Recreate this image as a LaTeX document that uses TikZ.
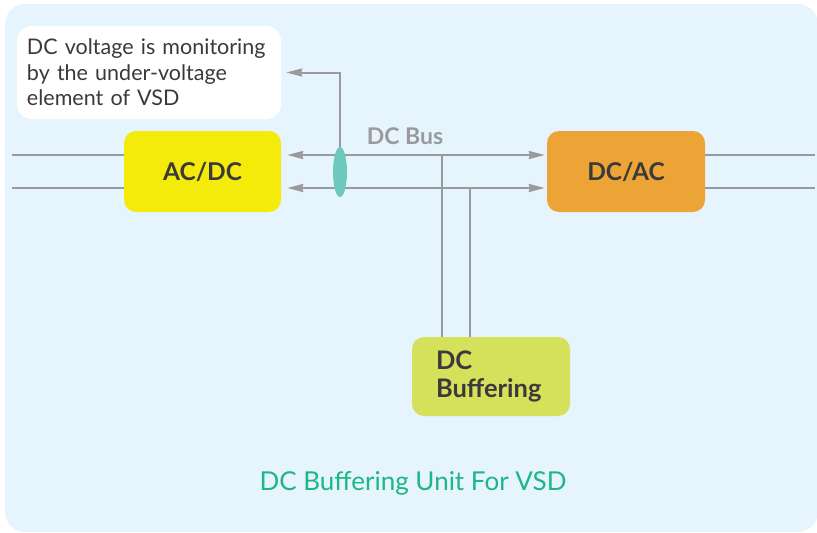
\documentclass[tikz,border=0pt]{standalone}
\usepackage{fontspec}
\setmainfont{Lato}
\usetikzlibrary{shapes.geometric,arrows.meta,positioning}

\definecolor{panelbg}{HTML}{E6F5FD}
\definecolor{wiregray}{HTML}{9A9A9C}
\definecolor{acdcyellow}{HTML}{F5EB0B}
\definecolor{dcacorange}{HTML}{EDA437}
\definecolor{bufgreen}{HTML}{D5E05B}
\definecolor{sensorteal}{HTML}{6DC8BD}
\definecolor{titlegreen}{HTML}{1DB686}
\definecolor{darktext}{HTML}{3A3A3A}

\tikzset{
  block/.style={shape=rectangle, rounded corners=12pt, draw=none, text=darktext,
    font=\fontsize{24.5}{28}\selectfont\bfseries},
  wire/.style={draw=wiregray, line width=2pt},
  bus/.style={wire, {Stealth[length=16pt,width=8pt,inset=1pt]}-{Stealth[length=16pt,width=8pt,inset=1pt]}},
}

\begin{document}
\begin{tikzpicture}[x=1pt,y=-1pt]
	\useasboundingbox (0,0) rectangle (817,533);
	% panel
	\fill[panelbg, rounded corners=20pt] (5,4) rectangle (818,532);

	% create the nodes
	\node (note) [shape=rectangle, rounded corners=15pt, fill=white, minimum width=264pt, minimum height=93pt,
	  text width=244pt, align=left, text=darktext, font=\fontsize{21.5}{25.5}\selectfont] at (149,72.5)
	  {DC voltage is monitoring\\by the under-voltage\\element of VSD};
	\node (acdc) [block, fill=acdcyellow, minimum width=157pt, minimum height=81pt] at (202.5,171.5) {AC/DC};
	\node (dcac) [block, fill=dcacorange, minimum width=158pt, minimum height=81pt] at (626,171.5) {DC/AC};
	\node (buf) [block, fill=bufgreen, minimum width=158pt, minimum height=79pt, text width=110pt, align=left,
	  font=\fontsize{25.5}{28}\selectfont\bfseries] at (491,376.5) {DC\\Buffering};
	\node (buslbl) [text=wiregray, font=\fontsize{23}{26}\selectfont\bfseries] at (405,136) {DC Bus};
	\node (title) [text=titlegreen, font=\fontsize{26}{30}\selectfont] at (413,483) {DC Buffering Unit For VSD};

	\coordinate (pL) at (12,155);
	\coordinate (nL) at (12,188);
	\coordinate (pR) at (815,155);
	\coordinate (nR) at (815,188);
	\coordinate (tapA) at (442,155);
	\coordinate (tapB) at (470,188);

	% connect the nodes
	\draw[wire] (pL) -- (pL -| acdc.west);
	\draw[wire] (nL) -- (nL -| acdc.west);
	\draw[wire] (pR -| dcac.east) -- (pR);
	\draw[wire] (nR -| dcac.east) -- (nR);
	\draw[wire] (tapA) -- (tapA |- buf.north);
	\draw[wire] (tapB) -- (tapB |- buf.north);
	\draw[bus, shorten <=6pt, shorten >=2pt] (pL -| acdc.east) -- (pL -| dcac.west);
	\draw[bus, shorten <=6pt, shorten >=2pt] (nL -| acdc.east) -- (nL -| dcac.west);
	\node (sense) [shape=ellipse, fill=sensorteal, minimum width=14pt, minimum height=50pt, inner sep=0pt] at (340,172) {};
	\draw[wire, -{Stealth[length=16pt,width=8pt,inset=1pt]}, shorten >=5pt] (sense.north) |- (note.east);

\end{tikzpicture}
\end{document}
